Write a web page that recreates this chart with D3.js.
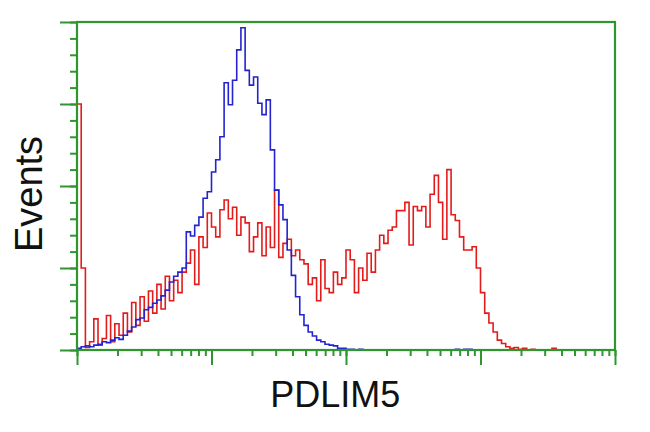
<!DOCTYPE html>
<meta charset="utf-8" />
<title>PDLIM5 flow histogram</title>
<style>
  body {
    margin: 0;
    background: #fff;
  }

  .frame,
  .tick-line {
    stroke: #2f962f;
    fill: none;
  }

  .trace {
    fill: none;
    stroke-linejoin: miter;
  }

  .label {
    font-family: "Liberation Sans", Arial, sans-serif;
    fill: #111;
  }
</style>

<body>
  <script src="https://d3js.org/d3.v7.min.js"></script>
  <script>
    // channel counts, 128 log bins from 10^0 to 10^4
    var blueCounts = [
      2, 4, 5, 4, 6, 7, 10, 9, 12, 15, 13, 18, 23, 28, 37, 39,
      49, 52, 57, 61, 66, 73, 83, 90, 95, 100, 144, 139, 152, 162, 185, 193,
      217, 232, 260, 326, 299, 329, 366, 393, 341, 323, 333, 301, 287, 305, 244, 195,
      177, 159, 122, 91, 65, 43, 30, 22, 17, 12, 10, 7, 6, 5, 2, 2,
      1, 1, 0, 1, 0, 0, 0, 0, 0, 0, 0, 0, 0, 0, 0, 0,
      0, 0, 0, 0, 0, 0, 0, 0, 0, 0, 1, 0, 1, 1, 0, 0,
      0, 0, 0, 0, 0, 0, 0, 0, 0, 0, 0, 0, 0, 0, 0, 0,
      0, 0, 0, 0, 0, 0, 0, 0, 0, 0, 0, 0, 0, 0, 0, 0,
    ];

    var redCounts = [
      300, 100, 3, 10, 38, 6, 14, 42, 10, 32, 18, 45, 22, 58, 30, 65,
      35, 72, 45, 80, 50, 90, 60, 85, 70, 95, 106, 122, 80, 138, 125, 167,
      150, 138, 171, 183, 160, 174, 140, 162, 155, 120, 138, 155, 115, 150, 125, 195,
      113, 130, 135, 115, 122, 110, 105, 80, 88, 60, 110, 75, 70, 95, 80, 88,
      122, 110, 70, 100, 85, 118, 95, 122, 140, 130, 146, 150, 170, 170, 180, 128,
      175, 170, 175, 150, 190, 213, 180, 135, 220, 165, 158, 138, 122, 122, 126, 100,
      70, 45, 33, 22, 12, 8, 4, 2, 3, 1, 2, 0, 1, 0, 0, 0,
      0, 2, 0, 0, 0, 0, 0, 0, 0, 0, 0, 0, 0, 0, 0, 0,
    ];

    var decades = [1, 10, 100, 1000, 10000];
    var yMajor = [0, 100, 200, 300, 400];
    var xTitle = "PDLIM5";
    var yTitle = "Events";

    var margin = { top: 22, right: 35, bottom: 82, left: 77 },
      width = 650,
      height = 432,
      innerW = width - margin.left - margin.right,
      innerH = height - margin.top - margin.bottom;

    var x = d3
      .scaleLog()
      .domain([decades[0], decades[decades.length - 1]])
      .range([0, innerW]);

    var y = d3
      .scaleLinear()
      .domain([yMajor[0], yMajor[yMajor.length - 1]])
      .range([innerH, 0]);

    var svg = d3
      .select("body")
      .append("svg")
      .attr("width", width)
      .attr("height", height);

    var g = svg
      .append("g")
      .attr("transform", "translate(" + margin.left + "," + margin.top + ")");

    g.append("clipPath")
      .attr("id", "plot-clip")
      .append("rect")
      .attr("width", innerW)
      .attr("height", innerH);

    // bin edges on the log axis
    var nBins = blueCounts.length;
    var logMin = Math.log10(decades[0]),
      logMax = Math.log10(decades[decades.length - 1]);

    function edge(i) {
      return Math.pow(10, logMin + ((logMax - logMin) * i) / nBins);
    }

    function steps(counts) {
      var pts = counts.map(function (c, i) {
        return [edge(i), c];
      });
      pts.push([edge(nBins), counts[nBins - 1]]);
      return pts;
    }

    var line = d3
      .line()
      .x(function (d) {
        return x(d[0]);
      })
      .y(function (d) {
        return y(d[1]);
      })
      .curve(d3.curveStepAfter);

    var plot = g.append("g").attr("clip-path", "url(#plot-clip)");

    plot
      .append("path")
      .attr("class", "trace")
      .attr("d", line(steps(redCounts)))
      .attr("stroke", "#e41b1b")
      .attr("stroke-width", 1.6);

    plot
      .append("path")
      .attr("class", "trace")
      .attr("d", line(steps(blueCounts)))
      .attr("stroke", "#2323cf")
      .attr("stroke-width", 1.6);

    // axes: left + bottom via d3.axis, ticks drawn green
    var xTicks = [];
    decades.forEach(function (d, k) {
      if (k < decades.length - 1) {
        for (var m = 1; m < 10; m++) xTicks.push(d * m);
      } else xTicks.push(d);
    });

    var xAxisMinor = d3
      .axisBottom(x)
      .tickValues(xTicks)
      .tickSize(6)
      .tickFormat("");
    var xAxisMajor = d3
      .axisBottom(x)
      .tickValues(decades)
      .tickSize(15)
      .tickFormat("");

    var yMinorVals = d3.range(yMajor[0], yMajor[yMajor.length - 1] + 1, 20);
    var yAxisMinor = d3
      .axisLeft(y)
      .tickValues(yMinorVals)
      .tickSize(7)
      .tickFormat("");
    var yAxisMajor = d3
      .axisLeft(y)
      .tickValues(yMajor)
      .tickSize(17)
      .tickFormat("");

    [xAxisMinor, xAxisMajor].forEach(function (ax) {
      g.append("g")
        .attr("transform", "translate(0," + innerH + ")")
        .call(ax)
        .call(function (s) {
          s.select(".domain").remove();
          s.selectAll(".tick line")
            .attr("class", "tick-line")
            .attr("stroke", null)
            .attr("stroke-width", 2);
        });
    });

    [yAxisMinor, yAxisMajor].forEach(function (ax) {
      g.append("g")
        .call(ax)
        .call(function (s) {
          s.select(".domain").remove();
          s.selectAll(".tick line")
            .attr("class", "tick-line")
            .attr("stroke", null)
            .attr("stroke-width", 2);
        });
    });

    // frame round the plot
    g.append("rect")
      .attr("class", "frame")
      .attr("width", innerW)
      .attr("height", innerH)
      .attr("stroke-width", 2.2);

    // titles
    svg
      .append("text")
      .attr("class", "label")
      .attr("x", margin.left + innerW * 0.48)
      .attr("y", 407)
      .attr("text-anchor", "middle")
      .style("font-size", "36px")
      .text(xTitle);

    svg
      .append("text")
      .attr("class", "label")
      .attr("transform", "translate(42," + 194 + ") rotate(-90)")
      .attr("text-anchor", "middle")
      .style("font-size", "38px")
      .text(yTitle);
  </script>
</body>
